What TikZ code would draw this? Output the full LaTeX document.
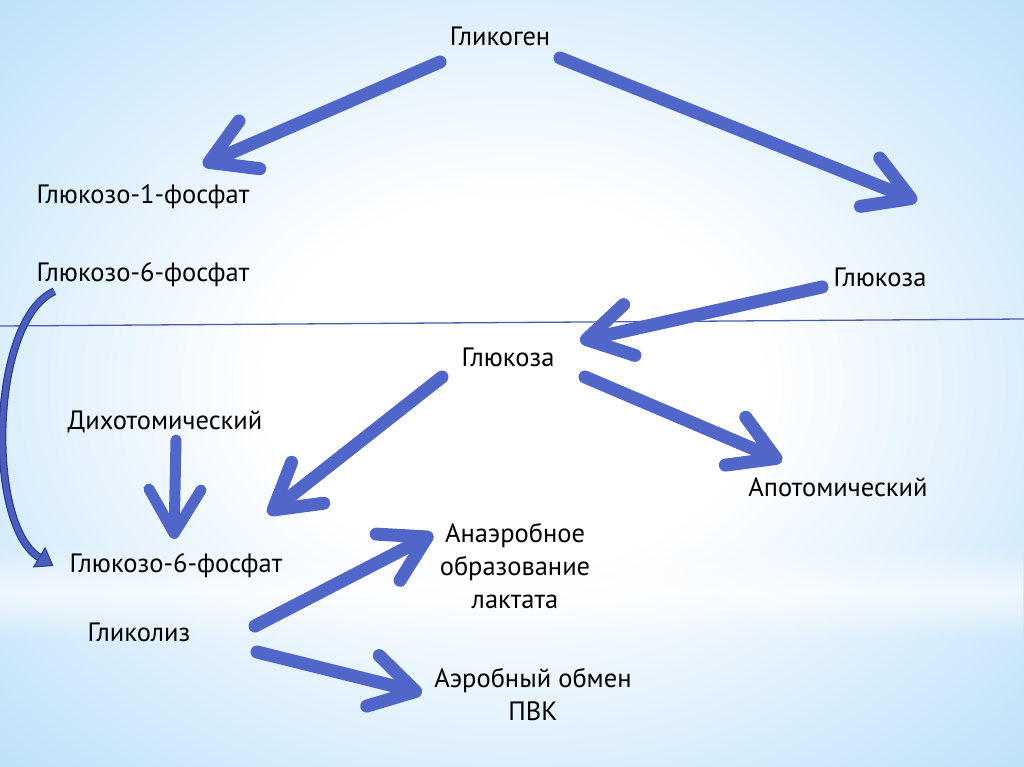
\documentclass[tikz,border=0pt]{standalone}
\usepackage{fontspec}
\setmainfont{PT Sans}
\usetikzlibrary{arrows.meta,calc,positioning,fadings}
\definecolor{bgblue}{HTML}{A6D6F7}
\definecolor{arrowblue}{HTML}{5066C8}
\definecolor{curvefill}{HTML}{4A5EBE}
\definecolor{curvedark}{HTML}{2C3C8C}
\definecolor{rulecol}{HTML}{4A5DB5}
\pgfdeclareradialshading{bgshade}{\pgfpoint{0bp}{0bp}}{color(0bp)=(white); color(12bp)=(white); color(44bp)=(bgblue); color(75bp)=(bgblue)}
\tikzfading[name=bandfade,top color=transparent!100,bottom color=transparent!100,middle color=transparent!35]

\begin{document}
\begin{tikzpicture}[x=1pt,y=-1pt,every node/.style={font=\fontsize{26.5}{33}\selectfont,align=center,inner sep=0pt},fat/.style={draw=arrowblue,line width=13pt,line cap=round,-{Straight Barb[length=44pt,width=52pt,round]}},bendarrow/.style={draw=curvedark,double=curvefill,double distance=5.5pt,line width=1.2pt,-{Triangle[length=17pt,width=24pt,fill=curvefill,line width=1pt]}}]
\useasboundingbox (0,0) rectangle (1024,767);
% background
\shade[shading=bgshade] (0,0) rectangle (1024,767);
\fill[white,path fading=bandfade] (0,545) rectangle (1024,640);
\draw[rulecol,line width=1.3pt] (0,326) -- (1024,319);
% substances
\node (glycogen) at (500,36) {Гликоген};
\node (g1p) at (143,197) {Глюкозо-1-фосфат};
\node (g6top) at (143,275) {Глюкозо-6-фосфат};
\node (glucR) at (880,277) {Глюкоза};
\node (glucM) at (508,357) {Глюкоза};
\node (dicho) at (165,422) {Дихотомический};
\node (apot) at (838,487) {Апотомический};
\node (g6bot) at (176,566) {Глюкозо-6-фосфат};
\node (glycol) at (139,632) {Гликолиз};
\node (anaer) at (515,566) {Анаэробное\\образование\\лактата};
\node (aer) at (533,694) {Аэробный обмен\\ПВК};
% arrows
\draw[fat] ($(glycogen)+(-60,26)$) -- ($(g1p)+(60,-32)$);
\draw[fat] ($(glycogen)+(60,22)$) -- ($(glucR)+(37,-76)$);
\draw[fat] ($(glucR)+(-58,10)$) -- ($(glucM)+(72,-16)$);
\draw[fat] ($(glucM)+(-66,20)$) -- ($(g6bot)+(92,-52)$);
\draw[fat] ($(glucM)+(77,20)$) -- ($(apot)+(-56,-26)$);
\draw[fat,line width=11pt] ($(dicho)+(11,18)$) -- ($(g6bot)+(-2,-27)$);
\draw[fat] ($(glycol)+(116,-6)$) -- ($(anaer)+(-82,-32)$);
\draw[fat] ($(glycol)+(118,20)$) -- ($(aer)+(-111,-1)$);
\coordinate (cA) at ($(g6top.south west)+(18,4)$);
\draw[bendarrow] (cA) .. controls (-10,320) and (-14,525) .. ($(g6bot.west)+(-16,0)$);
\end{tikzpicture}
\end{document}
